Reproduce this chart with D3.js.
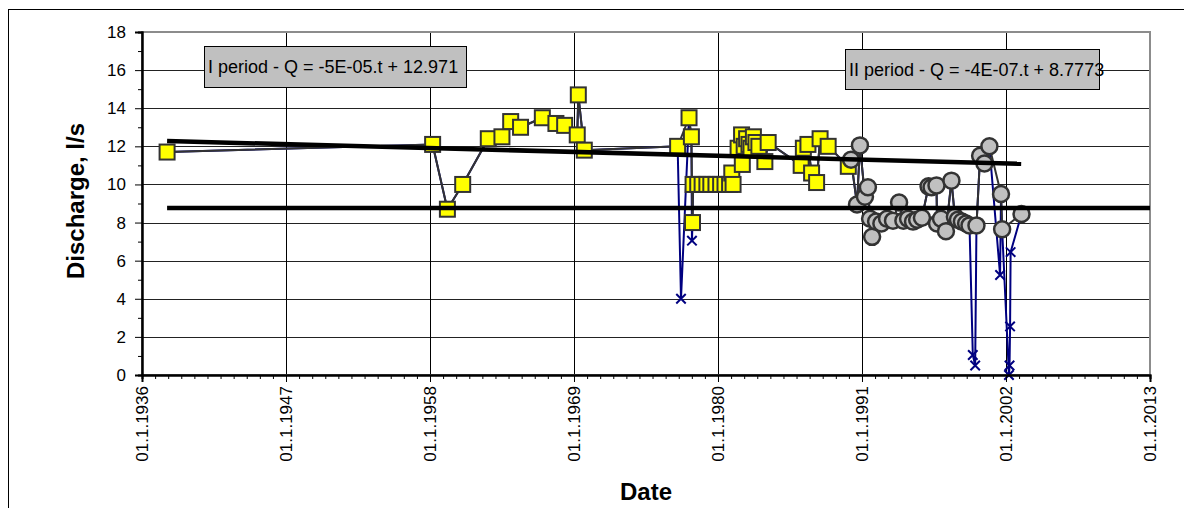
<!DOCTYPE html>
<html>
<head>
<meta charset="utf-8">
<script src="https://cdn.jsdelivr.net/npm/d3@7"></script>
<style>
  body { margin: 0; background: #fff; }
  svg text { font-family: "Liberation Sans", Arial, sans-serif; }
</style>
</head>
<body>
<svg class="chart"></svg>
<script>

// I period (yellow squares)
let datesI = ['1937-12-01','1958-03-15','1959-05-01','1960-07-01','1962-06-15','1963-07-01','1964-03-01','1964-12-01',
  '1966-08-01','1967-08-15','1968-04-15','1969-04-01','1969-05-01','1969-10-15','1976-12-01','1977-10-15','1977-12-20',
  '1978-01-20','1978-02-05','1978-06-15','1978-10-15','1979-02-25','1979-06-15','1979-11-05','1980-03-15','1980-07-15',
  '1980-11-20','1981-01-20','1981-02-25','1981-07-15','1981-10-20','1981-11-10','1982-01-01','1982-03-10','1982-05-15',
  '1982-07-10','1982-09-15','1982-11-25','1983-02-15','1983-08-01','1983-11-01','1986-05-10','1986-07-10','1986-11-15',
  '1987-02-25','1987-07-15','1987-10-20','1988-06-01','1989-12-15']
let flowI = [11.7,12.1,8.7,10.0,12.4,12.5,13.3,13.0,13.5,13.2,13.1,12.6,14.7,11.8,12.0,13.5,12.5,8.0,
  10.0,10.0,10.0,10.0,10.0,10.0,10.0,10.0,10.0,10.6,10.0,11.9,12.6,11.05,12.0,12.4,12.1,11.9,12.5,12.2,12.0,11.2,12.2,
  11.0,11.9,12.1,10.6,10.1,12.4,12.0,10.95]

// II period (grey circles)
let datesII = ['1990-03-01','1990-08-15','1990-11-05','1991-03-25','1991-06-15','1991-08-15','1991-10-10','1992-01-30',
  '1992-06-25','1992-12-01','1993-05-15','1993-11-01','1994-03-01','1994-07-10','1994-11-25','1995-03-20','1995-08-01',
  '1996-02-01','1996-04-25','1996-09-10','1996-09-25','1997-01-15','1997-06-01','1997-11-01','1998-02-05','1998-05-01',
  '1998-08-20','1998-12-15','1999-03-20','1999-09-30','2000-01-10','2000-05-10','2000-09-25','2001-08-15','2001-09-15',
  '2003-03-10']
let flowII = [11.3,8.95,12.05,9.35,9.85,8.2,7.25,8.05,7.95,8.2,8.1,9.05,8.1,8.2,8.05,8.15,8.25,9.9,9.85,9.95,
  7.95,8.2,7.55,10.2,8.3,8.15,8.05,7.95,7.85,7.85,11.5,11.1,12.0,9.5,7.65,8.45]

// low values left out of both periods (blue crosses)
let datesOut = ['1977-03-05','1978-01-05','1999-06-20','1999-08-25','2001-07-20','2002-03-25','2002-04-10','2002-04-25','2002-05-10']
let flowOut = [4.0,7.05,1.05,0.5,5.25,0.0,0.5,2.55,6.45]

// trend lines
let trendDatesI = ['1937-12-01','2003-03-01']
let trendI = [12.28,11.08]
let trendDatesII = ['1937-12-01','2013-01-01']
let trendII = [8.77,8.76]

let eqI = 'I period - Q = -5E-05.t + 12.971'
let eqII = 'II period - Q = -4E-07.t + 8.7773'

let yTicks = [0,2,4,6,8,10,12,14,16,18]
let tickYears = [1936,1947,1958,1969,1980,1991,2002,2013]

let parse = d3.timeParse('%Y-%m-%d')
let zip = (ds, vs) => ds.map((d, i) => ({ date: parse(d), q: vs[i] }))

let periodI = zip(datesI, flowI)
let periodII = zip(datesII, flowII)
let lows = zip(datesOut, flowOut)
let all = periodI.concat(periodII, lows).sort((a, b) => a.date - b.date)

let margin = { top: 32, left: 142 }
let width = 1008
let height = 343

let x = d3.scaleTime()
    .domain([new Date(tickYears[0], 0, 1), new Date(tickYears[tickYears.length - 1], 0, 1)])
    .range([0, width])
let y = d3.scaleLinear().domain([0, 18]).range([height, 0])

let root = d3.select('.chart').attr('width', 1184).attr('height', 508)

root.append('rect')
    .attr('x', 8.5).attr('y', 9.5).attr('width', 1200).attr('height', 600)
    .attr('fill', 'none').attr('stroke', '#000')

let svg = root.append('g')
    .attr('transform', 'translate(' + margin.left + ',' + margin.top + ')')

// grid
svg.selectAll('.hgrid').data(yTicks.slice(1, -1)).enter().append('line')
    .attr('x1', 0).attr('x2', width)
    .attr('y1', d => Math.round(y(d)) + 0.5).attr('y2', d => Math.round(y(d)) + 0.5)
    .attr('stroke', '#222').attr('stroke-width', 1)

let majorDates = tickYears.map(yr => new Date(yr, 0, 1))
svg.selectAll('.vgrid').data(majorDates.slice(1, -1)).enter().append('line')
    .attr('x1', d => Math.round(x(d)) + 0.5).attr('x2', d => Math.round(x(d)) + 0.5)
    .attr('y1', 0).attr('y2', height)
    .attr('stroke', '#000').attr('stroke-width', 1)

svg.append('rect')
    .attr('width', width).attr('height', height)
    .attr('fill', 'none').attr('stroke', '#8c8c8c').attr('stroke-width', 2)

let line = d3.line().x(d => x(d.date)).y(d => y(d.q))

// all values, blue
svg.append('path').datum(all)
    .attr('d', line).attr('fill', 'none')
    .attr('stroke', '#000080').attr('stroke-width', 2)

let cross = d3.symbol().type(d3.symbolX).size(60)
svg.selectAll('.cross').data(all).enter().append('path')
    .attr('d', cross)
    .attr('transform', d => 'translate(' + x(d.date) + ',' + y(d.q) + ')')
    .attr('fill', 'none').attr('stroke', '#000080').attr('stroke-width', 2)

svg.append('path').datum(periodI)
    .attr('d', line).attr('fill', 'none')
    .attr('stroke', '#333').attr('stroke-width', 2)

svg.append('path').datum(periodII)
    .attr('d', line).attr('fill', 'none')
    .attr('stroke', '#333').attr('stroke-width', 2)

svg.selectAll('.sq').data(periodI).enter().append('rect')
    .attr('x', d => x(d.date) - 7.5).attr('y', d => y(d.q) - 7.5)
    .attr('width', 15).attr('height', 15)
    .attr('fill', '#ffff00').attr('stroke', '#333').attr('stroke-width', 2)

svg.selectAll('.ci').data(periodII).enter().append('circle')
    .attr('cx', d => x(d.date)).attr('cy', d => y(d.q)).attr('r', 8)
    .attr('fill', '#c0c0c0').attr('stroke', '#333').attr('stroke-width', 2.5)

// trend lines
;[zip(trendDatesI, trendI), zip(trendDatesII, trendII)].forEach(function(t) {
  svg.append('path').datum(t)
      .attr('d', line).attr('fill', 'none')
      .attr('stroke', '#000').attr('stroke-width', 4.5)
})

// axes
let xAxis = svg.append('g')
    .attr('transform', 'translate(0,' + height + ')')
    .call(d3.axisBottom(x).tickValues(majorDates).tickSize(7).tickFormat(d3.timeFormat('%d.%-m.%Y')))
xAxis.selectAll('text')
    .attr('transform', 'rotate(-90)')
    .attr('x', -11).attr('y', 0).attr('dy', '0.35em')
    .style('text-anchor', 'end')
    .style('font-size', '17px').attr('fill', '#000')

svg.append('g')
    .attr('transform', 'translate(0,' + height + ')')
    .call(d3.axisBottom(x).tickValues(d3.timeYear.range(majorDates[0], majorDates[majorDates.length - 1])).tickSize(4).tickFormat(''))

let yAxis = svg.append('g')
    .call(d3.axisLeft(y).tickValues(yTicks).tickSize(7).tickPadding(9))
yAxis.selectAll('text').style('font-size', '17px').attr('fill', '#000')

svg.append('g')
    .call(d3.axisLeft(y).tickValues(d3.range(1, 18, 2)).tickSize(4).tickFormat(''))

svg.selectAll('.domain').attr('stroke', '#000').attr('stroke-width', 2)
svg.selectAll('.tick line').attr('stroke', '#000')

// equation labels
function eqBox(bx, by, bw, bh, txt) {
  root.append('rect')
      .attr('x', bx + 0.5).attr('y', by + 0.5).attr('width', bw).attr('height', bh)
      .attr('fill', '#c0c0c0').attr('stroke', '#000')
  root.append('text')
      .attr('x', bx + 4).attr('y', by + 27)
      .style('font-size', '18px')
      .text(txt)
}
eqBox(204, 46, 262, 41, eqI)
eqBox(845, 49, 254, 40, eqII)

root.append('text')
    .attr('transform', 'translate(84,201) rotate(-90)')
    .attr('text-anchor', 'middle')
    .style('font-size', '24px').style('font-weight', 'bold')
    .text('Discharge, l/s')

root.append('text')
    .attr('x', margin.left + width / 2).attr('y', 500)
    .attr('text-anchor', 'middle')
    .style('font-size', '24px').style('font-weight', 'bold')
    .text('Date')

</script>
</body>
</html>
